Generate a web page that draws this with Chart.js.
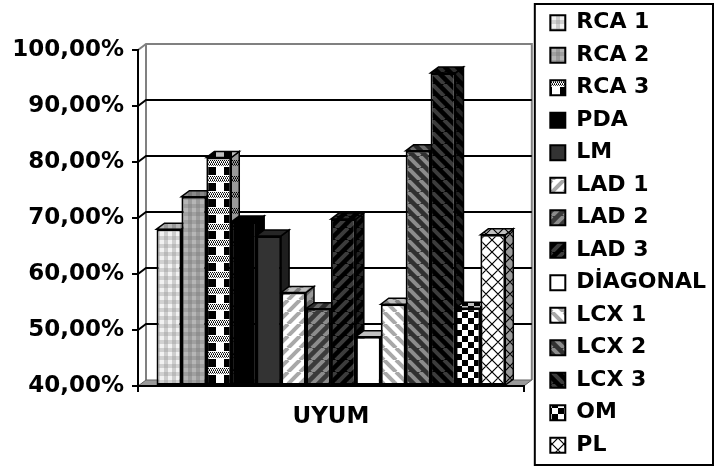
<!DOCTYPE html>
<html lang="tr">
<head>
    <meta charset="UTF-8">
    <title>UYUM</title>
    <script src="https://cdn.jsdelivr.net/npm/chart.js"></script>
    <style>
        html, body { margin: 0; padding: 0; background: #fff; }
        canvas { display: block; }
    </style>
</head>
<body>
    <canvas id="uyumChart" width="716" height="468"></canvas>

    <script>
        // category and series
        var categories = ['UYUM'];
        var vessels = ['RCA 1', 'RCA 2', 'RCA 3', 'PDA', 'LM', 'LAD 1', 'LAD 2', 'LAD 3',
                       'DİAGONAL', 'LCX 1', 'LCX 2', 'LCX 3', 'OM', 'PL'];
        var uyum = [68, 73.8, 80.8, 69.3, 66.8, 56.7, 53.8, 69.8, 48.8, 54.6, 82, 95.9, 53.9, 67];

        // value axis
        var axisMin = 40;
        var axisMax = 100;
        var axisStep = 10;

        var depthX = 8, depthY = 6;

        function makePattern(w, h, paint) {
            var c = document.createElement('canvas');
            c.width = w; c.height = h;
            var g = c.getContext('2d');
            paint(g, w, h);
            return g.createPattern(c, 'repeat');
        }

        function stripes(bg, fg, dir) {
            return makePattern(12, 12, function(g, s) {
                g.fillStyle = bg;
                g.fillRect(0, 0, s, s);
                g.strokeStyle = fg;
                g.lineWidth = 4;
                for (var k = -1; k <= 1; k++) {
                    g.beginPath();
                    if (dir === '/') {
                        g.moveTo(k * s, s); g.lineTo(k * s + s, 0);
                    } else {
                        g.moveTo(k * s, 0); g.lineTo(k * s + s, s);
                    }
                    g.stroke();
                }
            });
        }

        function plaid(bg, band1, band2) {
            return makePattern(8, 8, function(g) {
                g.fillStyle = bg; g.fillRect(0, 0, 8, 8);
                g.fillStyle = band1; g.fillRect(4, 0, 4, 8);
                g.fillStyle = band2; g.fillRect(0, 4, 8, 4);
            });
        }

        var fills = [
            plaid('#f2f2f2', '#cdcdcd', 'rgba(150,150,150,0.35)'),
            plaid('#b6b6b6', '#9c9c9c', 'rgba(120,120,120,0.35)'),
            makePattern(16, 16, function(g) {
                g.fillStyle = '#fff'; g.fillRect(0, 0, 16, 16);
                g.fillStyle = '#000';
                for (var y = 0; y < 6; y += 2)
                    for (var x = (y / 2) % 2; x < 16; x += 2) g.fillRect(x, y, 1, 1);
                g.fillStyle = '#555';
                for (var yy = 0; yy < 6; yy += 2)
                    for (var xx = 1 - (yy / 2) % 2; xx < 16; xx += 2) g.fillRect(xx, yy + 1, 1, 1);
                g.fillStyle = '#000';
                g.fillRect(0, 7, 8, 8);
            }),
            '#000000',
            '#333333',
            stripes('#ffffff', '#a8a8a8', '/'),
            stripes('#3a3a3a', '#8c8c8c', '/'),
            stripes('#000000', '#3c3c3c', '/'),
            '#ffffff',
            stripes('#ffffff', '#a8a8a8', '\\'),
            stripes('#303030', '#8c8c8c', '\\'),
            stripes('#000000', '#3c3c3c', '\\'),
            makePattern(12, 12, function(g) {
                g.fillStyle = '#fff'; g.fillRect(0, 0, 12, 12);
                g.fillStyle = '#000';
                g.fillRect(6, 0, 6, 6);
                g.fillRect(0, 6, 6, 6);
            }),
            makePattern(12, 12, function(g) {
                g.fillStyle = '#fff'; g.fillRect(0, 0, 12, 12);
                g.strokeStyle = '#000'; g.lineWidth = 1.2;
                g.beginPath();
                g.moveTo(0, 12); g.lineTo(12, 0);
                g.moveTo(-6, 6); g.lineTo(6, -6);
                g.moveTo(6, 18); g.lineTo(18, 6);
                g.moveTo(0, 0); g.lineTo(12, 12);
                g.moveTo(-6, 6); g.lineTo(6, 18);
                g.moveTo(6, -6); g.lineTo(18, 6);
                g.stroke();
            })
        ];

        function poly(ctx, pts) {
            ctx.beginPath();
            ctx.moveTo(pts[0][0], pts[0][1]);
            for (var i = 1; i < pts.length; i++) ctx.lineTo(pts[i][0], pts[i][1]);
            ctx.closePath();
        }

        // back wall, side wall, floor and gridlines behind the bars
        var walls = {
            id: 'walls',
            beforeDraw: function(chart) {
                var ctx = chart.ctx, a = chart.chartArea, ys = chart.scales.y;
                var L = a.left, R = a.right, T = a.top, B = a.bottom;
                ctx.save();
                ctx.fillStyle = '#fff';
                ctx.fillRect(L, T - depthY, R + depthX - L, B - T);

                ctx.strokeStyle = '#808080';
                ctx.lineWidth = 2;
                ctx.beginPath();
                ctx.moveTo(L, T);
                ctx.lineTo(L + depthX, T - depthY);
                ctx.lineTo(R + depthX, T - depthY);
                ctx.lineTo(R + depthX, B - depthY);
                ctx.moveTo(L + depthX, T - depthY);
                ctx.lineTo(L + depthX, B - depthY);
                ctx.stroke();

                ctx.strokeStyle = '#000';
                for (var v = axisMin + axisStep; v < axisMax; v += axisStep) {
                    var y = ys.getPixelForValue(v);
                    ctx.beginPath();
                    ctx.moveTo(L, y);
                    ctx.lineTo(L + depthX, y - depthY);
                    ctx.lineTo(R + depthX, y - depthY);
                    ctx.stroke();
                }

                poly(ctx, [[L, B], [L + depthX, B - depthY], [R + depthX, B - depthY], [R, B]]);
                ctx.fillStyle = '#9a9a9a';
                ctx.fill();
                ctx.strokeStyle = '#606060';
                ctx.lineWidth = 1;
                ctx.stroke();
                ctx.restore();
            },
            // tops and right sides of the bars, left to right
            beforeDatasetsDraw: function(chart) {
                var ctx = chart.ctx;
                ctx.save();
                ctx.lineWidth = 1.5;
                ctx.strokeStyle = '#000';
                chart.data.datasets.forEach(function(ds, i) {
                    var el = chart.getDatasetMeta(i).data[0];
                    var p = el.getProps(['x', 'y', 'base', 'width'], true);
                    var l = p.x - p.width / 2, r = p.x + p.width / 2;
                    var side = [[r, p.y], [r + depthX, p.y - depthY], [r + depthX, p.base - depthY], [r, p.base]];
                    var top = [[l, p.y], [l + depthX, p.y - depthY], [r + depthX, p.y - depthY], [r, p.y]];
                    [[side, 'rgba(0,0,0,0.4)'], [top, 'rgba(0,0,0,0.25)']].forEach(function(f) {
                        poly(ctx, f[0]);
                        ctx.fillStyle = ds.backgroundColor;
                        ctx.fill();
                        ctx.fillStyle = f[1];
                        ctx.fill();
                        ctx.stroke();
                    });
                });
                ctx.restore();
            },
            // frame around the legend
            afterDraw: function(chart) {
                var lg = chart.legend, ctx = chart.ctx;
                ctx.save();
                ctx.strokeStyle = '#000';
                ctx.lineWidth = 2;
                ctx.strokeRect(lg.left - 5, lg.top + 4, lg.right - 3 - (lg.left - 5), lg.bottom - 3 - (lg.top + 4));
                ctx.restore();
            }
        };

        Chart.defaults.font.family = "'DejaVu Sans', sans-serif";
        Chart.defaults.font.weight = 'bold';
        Chart.defaults.color = '#000';

        var boldFont = { family: "'DejaVu Sans', sans-serif", size: 23, weight: 'bold' };

        new Chart(document.getElementById('uyumChart').getContext('2d'), {
            type: 'bar',
            data: {
                labels: categories,
                datasets: vessels.map(function(name, i) {
                    return {
                        label: name,
                        data: [uyum[i]],
                        base: axisMin,
                        backgroundColor: fills[i],
                        borderColor: '#000',
                        borderWidth: 2,
                        borderSkipped: false,
                        categoryPercentage: 0.904,
                        barPercentage: 1
                    };
                })
            },
            options: {
                responsive: false,
                animation: false,
                layout: { padding: { left: 12, top: 0, right: 0, bottom: 0 } },
                scales: {
                    x: {
                        grid: { display: true, drawOnChartArea: false, drawTicks: true, tickLength: 6, color: '#000', lineWidth: 2, offset: true },
                        border: { display: true, color: '#000', width: 2 },
                        ticks: { font: boldFont, padding: 11, color: '#000' },
                        afterFit: function(s) { s.height = 82; }
                    },
                    y: {
                        min: axisMin,
                        max: axisMax,
                        grid: { display: true, drawOnChartArea: false, drawTicks: true, tickLength: 6, color: '#000', lineWidth: 2 },
                        border: { display: true, color: '#000', width: 2 },
                        ticks: {
                            stepSize: axisStep,
                            font: boldFont,
                            padding: 8,
                            color: '#000',
                            callback: function(v) { return v.toFixed(2).replace('.', ',') + '%'; }
                        },
                        afterFit: function(s) { s.width = 126; }
                    },
                    topGap: {
                        type: 'linear', position: 'top', display: true,
                        grid: { display: false, drawTicks: false }, border: { display: false },
                        ticks: { display: false },
                        afterFit: function(s) { s.height = 50; }
                    },
                    rightGap: {
                        type: 'linear', position: 'right', display: true,
                        grid: { display: false, drawTicks: false }, border: { display: false },
                        ticks: { display: false },
                        afterFit: function(s) { s.width = 16; }
                    }
                },
                plugins: {
                    legend: {
                        position: 'right',
                        maxWidth: 200,
                        labels: {
                            font: { family: "'DejaVu Sans', sans-serif", size: 22, weight: 'bold' },
                            color: '#000',
                            boxWidth: 15,
                            boxHeight: 15,
                            padding: 10.5
                        }
                    },
                    tooltip: { enabled: false }
                }
            },
            plugins: [walls]
        });
    </script>
</body>
</html>
